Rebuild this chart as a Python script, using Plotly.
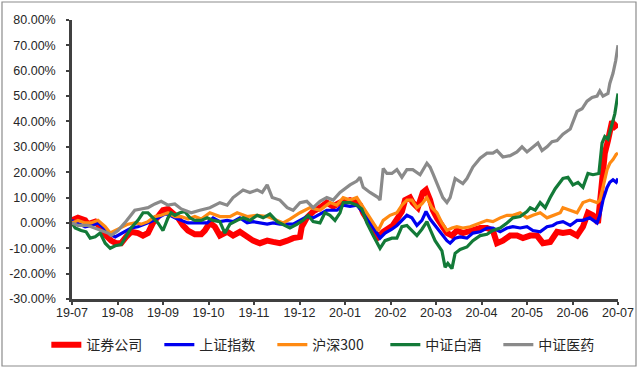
import plotly.graph_objects as go

# x positions: months since 2019-07 (0 = 19-07, 12 = 20-07)
month_labels = ["19-07", "19-08", "19-09", "19-10", "19-11", "19-12", "20-01",
                "20-02", "20-03", "20-04", "20-05", "20-06", "20-07"]
y_tick_values = [-30, -20, -10, 0, 10, 20, 30, 40, 50, 60, 70, 80]
y_tick_labels = ["-30.00%", "-20.00%", "-10.00%", "0.00%", "10.00%", "20.00%",
                 "30.00%", "40.00%", "50.00%", "60.00%", "70.00%", "80.00%"]

# 证券公司 (red)
sec_x = [0, 0.13, 0.29, 0.35, 0.51, 0.64, 0.75, 0.86, 0.97, 1.08, 1.19, 1.30, 1.45, 1.56, 1.67, 1.78,
         1.89, 2.00, 2.11, 2.22, 2.33, 2.44, 2.55, 2.70, 2.84, 2.92, 3.03, 3.14, 3.25, 3.41, 3.54, 3.69,
         3.85, 3.98, 4.13, 4.29, 4.42, 4.57, 4.73, 4.86, 5.01, 5.05, 5.16, 5.30, 5.45, 5.60, 5.74, 5.89,
         5.96, 6.11, 6.26, 6.33, 6.40, 6.51, 6.62, 6.73, 6.84, 6.95, 7.05, 7.16, 7.25, 7.32, 7.43, 7.49,
         7.60, 7.71, 7.78, 7.87, 7.93, 8.02, 8.13, 8.24, 8.35, 8.46, 8.59, 8.75, 8.81, 8.97, 9.12, 9.25,
         9.34, 9.47, 9.63, 9.78, 9.91, 10.07, 10.22, 10.35, 10.51, 10.66, 10.79, 10.95, 11.10, 11.23,
         11.34, 11.45, 11.56, 11.65, 11.71, 11.78, 11.87, 11.93, 12.0]
sec_y = [1, 2, 1, -0.5, 0.5, -2, -5, -7, -8, -8, -5.5, -3.5, -4, -5, -4, 0,
         2.5, 5, 5.5, 3.5, 2, -1, -3, -4.5, -4.5, -3, 0, -1.5, -5, -3.5, -5, -3.5,
         -5.5, -7, -8, -7, -7.5, -8, -7, -6, -5.5, -1.5, 2, 4.5, 6, 8, 6.5, 8,
         8, 9, 8, 7, 4, 1, -2, -5.5, -3.5, -2.5, -1, 2, 4.5, 9, 10, 8,
         6, 12, 13, 9, 5, 2, -1.5, -4, -5, -3, -4, -3, -3, -2, -2, -3,
         -8, -7, -5, -5, -6, -5, -5, -8, -7.5, -3.5, -4, -3.5, -5, -1.5,
         4, 3, 0, 17, 27.5, 32.5, 40, 38, 39]

# 上证指数 (blue)
sh_x = [0, 0.13, 0.29, 0.42, 0.57, 0.73, 0.84, 0.95, 1.05, 1.19, 1.30, 1.45, 1.60, 1.74, 1.89, 2.04,
        2.11, 2.26, 2.40, 2.55, 2.70, 2.84, 2.97, 3.10, 3.25, 3.41, 3.54, 3.69, 3.85, 3.98, 4.13, 4.29,
        4.42, 4.57, 4.73, 4.86, 5.01, 5.16, 5.30, 5.45, 5.60, 5.74, 5.82, 5.96, 6.11, 6.26, 6.33, 6.40,
        6.55, 6.70, 6.77, 6.88, 7.03, 7.14, 7.25, 7.36, 7.47, 7.58, 7.69, 7.78, 7.87, 7.98, 8.09, 8.24,
        8.31, 8.42, 8.53, 8.68, 8.81, 8.97, 9.12, 9.25, 9.41, 9.56, 9.69, 9.85, 10.00, 10.13, 10.29,
        10.44, 10.57, 10.66, 10.79, 10.95, 11.10, 11.23, 11.38, 11.54, 11.60, 11.67, 11.76, 11.82,
        11.89, 11.96, 12.0]
sh_y = [1, 0, -1.5, -1, 0, -2.5, -4.5, -5.5, -4.5, -3, -2, -1.5, -0.5, 0.5, 2, 3.5,
        3.5, 2, 1, 0, 0, 0, 0, 2, 0.5, 1, 0.5, 2, 0, 0.5, 0, -0.5,
        0, -0.5, -0.5, -0.5, 1, 2.5, 2, 3.5, 5, 5, 5, 7, 6.5, 7, 5.5, 4,
        0, -4, -6, -4, -2.5, -1, 1, 3, 2, -1, 1, 4.5, 1.5, -1, -3.5, -7,
        -8, -6, -5.5, -6, -4, -3.5, -2, -2, -3.5, -2, -1.5, -2, -1.5, -3, -3.5,
        -1.5, -1, 0, 0.5, -1, 1, 1, 2, 0, 3, 9, 14, 16,
        17, 16, 17.5]

# 沪深300 (orange)
hs_x = [0, 0.13, 0.29, 0.42, 0.57, 0.73, 0.84, 0.95, 1.08, 1.23, 1.38, 1.52, 1.67, 1.82, 1.96, 2.11,
        2.26, 2.40, 2.55, 2.70, 2.84, 3.03, 3.25, 3.47, 3.63, 3.85, 4.07, 4.29, 4.51, 4.64, 4.79, 5.01,
        5.23, 5.45, 5.67, 5.82, 5.96, 6.11, 6.26, 6.33, 6.40, 6.51, 6.62, 6.73, 6.84, 6.99, 7.14, 7.25,
        7.36, 7.47, 7.58, 7.69, 7.80, 7.91, 8.02, 8.13, 8.24, 8.35, 8.46, 8.59, 8.75, 8.97, 9.12, 9.25,
        9.41, 9.56, 9.69, 9.85, 10.00, 10.13, 10.29, 10.44, 10.57, 10.73, 10.79, 10.95, 11.10, 11.23,
        11.38, 11.54, 11.60, 11.67, 11.76, 11.82, 11.89, 11.96, 12.0]
hs_y = [0, 1, 0, 0, 1, -1.5, -4, -3, -2, -0.5, 0, -0.5, 0.5, 2.5, 3, 4,
        2.5, 2.5, 1.5, 2.5, 1.5, 4, 2.5, 2.5, 4, 2.5, 3, 2.5, 1, 0, 1.5, 4,
        6, 5, 8, 7, 10, 9, 10, 8, 6, 3, 0, -3, 1, 3, 4, 7,
        9, 9, 6, 7.5, 10, 6, 4, 0, -3, -2, -1.5, -2, -1.5, 0, 1, 0.5,
        2, 3, 3, 4, 2, 3, 4, 2, 3, 4, 6, 5, 4, 8,
        9, 8, 9, 14, 21, 23.5, 25, 27, 27.5]

# 中证白酒 (green)
bj_x = [0, 0.07, 0.20, 0.31, 0.40, 0.51, 0.62, 0.73, 0.84, 0.95, 1.08, 1.19, 1.30, 1.45, 1.56, 1.67,
        1.78, 1.89, 2.00, 2.11, 2.18, 2.26, 2.37, 2.48, 2.59, 2.70, 2.84, 2.97, 3.10, 3.25, 3.36, 3.47,
        3.63, 3.76, 3.91, 4.07, 4.20, 4.35, 4.51, 4.64, 4.79, 4.95, 5.08, 5.19, 5.30, 5.45, 5.56, 5.67,
        5.78, 5.89, 5.96, 6.11, 6.26, 6.37, 6.48, 6.62, 6.77, 6.88, 7.03, 7.14, 7.25, 7.36, 7.47, 7.58,
        7.69, 7.80, 7.87, 7.98, 8.13, 8.20, 8.26, 8.35, 8.42, 8.53, 8.68, 8.81, 8.97, 9.12, 9.25, 9.41,
        9.56, 9.69, 9.85, 10.00, 10.07, 10.18, 10.29, 10.40, 10.51, 10.62, 10.79, 10.90, 11.01, 11.12,
        11.23, 11.34, 11.45, 11.58, 11.65, 11.71, 11.78, 11.87, 11.93, 12.0]
bj_y = [0, -2, -3, -3.5, -6, -5.5, -4, -8, -10, -9, -8.5, -5.5, -2, 1, 4, 4,
        2, 0, -3, 2, 4, 3, 4, 4.5, 2, 1, 1, 2, 1, 0.5, -4, -0.5,
        1, 2, 1, 3, 2, 3.5, 0.5, -0.5, -2, -0.5, 1, 3, 0.5, 0, 4, 3,
        1, 4, 8, 8, 7, 5.5, 0, -5, -10, -7, -6, -6, -1.5, -1, -3, -5,
        -2.5, 0.5, -2.5, -7, -11, -17.5, -16, -18, -12, -10.5, -9.5, -7, -5, -4.5, -3, -2,
        0, 2, 2.5, 4.5, 6, 5, 8, 6, 10, 13.5, 17.5, 18, 15, 16,
        14, 19.5, 19, 19.5, 31.5, 34, 33, 39, 43, 51]

# 中证医药 (gray)
yy_x = [0, 0.13, 0.35, 0.51, 0.64, 0.79, 0.86, 1.01, 1.16, 1.27, 1.38, 1.52, 1.67, 1.82, 1.96, 2.11,
        2.26, 2.40, 2.62, 2.81, 3.03, 3.25, 3.41, 3.54, 3.76, 3.91, 4.07, 4.18, 4.29, 4.40, 4.57, 4.73,
        4.86, 5.01, 5.16, 5.30, 5.45, 5.60, 5.74, 5.89, 6.11, 6.26, 6.33, 6.40, 6.55, 6.73, 6.77, 6.84,
        6.92, 7.03, 7.14, 7.25, 7.36, 7.49, 7.65, 7.80, 7.87, 7.93, 8.02, 8.15, 8.24, 8.31, 8.42, 8.53,
        8.59, 8.68, 8.81, 8.97, 9.12, 9.25, 9.34, 9.47, 9.63, 9.78, 9.89, 10.00, 10.13, 10.24, 10.33,
        10.44, 10.55, 10.66, 10.79, 10.95, 11.10, 11.21, 11.32, 11.43, 11.54, 11.60, 11.67, 11.78,
        11.82, 11.89, 11.95, 12.0]
yy_y = [0, -1, -1, -2, -3, -4, -5, -3, 0, 2.5, 5, 5.5, 6, 7.5, 8.5, 7,
        7.5, 5.5, 4, 5, 6, 8, 7, 10, 13, 12, 13, 12, 15, 10, 9, 6,
        5, 8, 8.5, 6, 8.5, 10, 9, 12, 15, 16.5, 18, 14, 12, 10, 9, 21.5,
        19.5, 19.5, 21, 18, 21, 21, 19, 23.5, 22, 19.5, 15.5, 10, 8, 10, 17.5, 16,
        15.5, 17.5, 22, 25.5, 27.5, 27.5, 28.5, 26, 26.5, 28, 30, 28, 30, 31.5, 28.5,
        30, 32, 32.5, 35, 37, 44, 45, 48, 49.5, 50, 52, 50, 51,
        55, 59, 64, 70]

series = [
    ("证券公司", sec_x, sec_y, "#FF0000", 6),
    ("上证指数", sh_x, sh_y, "#0000F0", 3.2),
    ("沪深300", hs_x, hs_y, "#FF8A12", 3.2),
    ("中证白酒", bj_x, bj_y, "#137A38", 3.2),
    ("中证医药", yy_x, yy_y, "#8A8A8A", 3.2),
]

fig = go.Figure()
for name, xs, ys, color, w in series:
    fig.add_trace(go.Scatter(x=xs, y=ys, name=name, mode="lines",
                             line=dict(color=color, width=w)))

tick_font = dict(family="Liberation Sans, Arial, sans-serif", size=12.5, color="#262626")

fig.update_layout(
    width=640, height=370,
    margin=dict(l=72, r=22, t=20, b=71, autoexpand=False),
    paper_bgcolor="white", plot_bgcolor="white",
    showlegend=True,
    legend=dict(orientation="h", x=-0.047, xanchor="left", y=-0.165, yanchor="middle",
                font=dict(family="Noto Sans CJK SC", size=14, color="#262626"),
                entrywidth=68, entrywidthmode="pixels", traceorder="normal",
                bgcolor="rgba(0,0,0,0)"),
    xaxis=dict(range=[0, 12], tickmode="array", tickvals=list(range(len(month_labels))),
               ticktext=month_labels, showgrid=False, zeroline=False, automargin=False,
               showline=True, linecolor="#404040", linewidth=2.5,
               ticks="outside", ticklen=3, tickwidth=2, tickcolor="#404040",
               ticklabelstandoff=-3, tickfont=tick_font),
    yaxis=dict(range=[-30, 80], tickmode="array", tickvals=y_tick_values,
               ticktext=y_tick_labels, showgrid=False, zeroline=False, automargin=False,
               showline=True, linecolor="#404040", linewidth=2.5,
               ticks="outside", ticklen=3, tickwidth=2, tickcolor="#404040",
               ticklabelstandoff=8, tickfont=tick_font),
)

# outer frame around the whole picture
fig.add_shape(type="rect", xref="paper", yref="paper",
              x0=(2 - 72) / 546, x1=(636 - 72) / 546,
              y0=(299 - 366) / 279, y1=(299 - 2) / 279,
              line=dict(color="#8C8C8C", width=1.2), fillcolor="rgba(0,0,0,0)", layer="below")

fig.write_html("out.html", config={"displayModeBar": False},
               post_script="document.body.style.margin='0';document.body.style.overflow='hidden';")
